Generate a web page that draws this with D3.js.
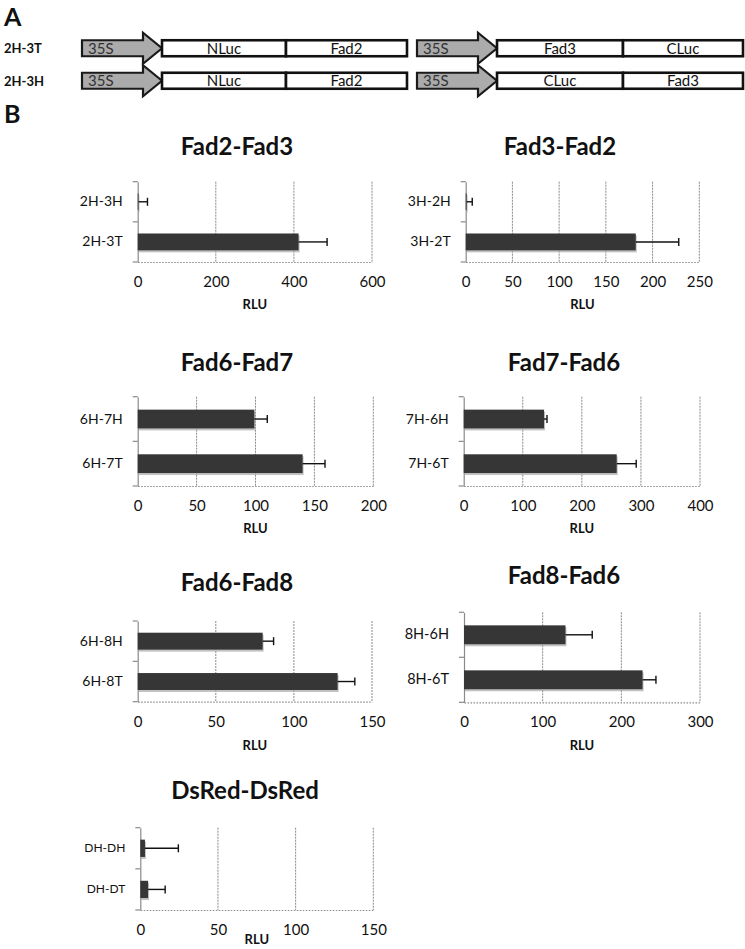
<!DOCTYPE html>
<html><head><meta charset="utf-8">
<script src="https://cdn.jsdelivr.net/npm/d3@7"></script>
<style>
html,body{margin:0;padding:0;background:#fff;}
svg{display:block;}
</style></head>
<body>
<script>
// ---------- DATA ----------
// Panel A constructs
const constructNames = ["2H-3T", "2H-3H"];
const promoterLabel = "35S";
const leftCassette = [["NLuc", "Fad2"], ["NLuc", "Fad2"]];
const rightCassette = [["Fad3", "CLuc"], ["CLuc", "Fad3"]];

// Panel B charts
const chartTitles = ["Fad2-Fad3", "Fad3-Fad2", "Fad6-Fad7", "Fad7-Fad6", "Fad6-Fad8", "Fad8-Fad6", "DsRed-DsRed"];
const chartCategories = [
  ["2H-3H", "2H-3T"],
  ["3H-2H", "3H-2T"],
  ["6H-7H", "6H-7T"],
  ["7H-6H", "7H-6T"],
  ["6H-8H", "6H-8T"],
  ["8H-6H", "8H-6T"],
  ["DH-DH", "DH-DT"]
];
const chartValues = [
  [2, 412],
  [1, 182],
  [99, 140],
  [136, 259],
  [80, 128],
  [129, 227],
  [3, 5]
];
const chartErrors = [
  [23, 73],
  [6, 46],
  [11, 19],
  [5, 33],
  [7, 11],
  [34, 17],
  [21.5, 11]
];
const chartMax = [600, 250, 200, 400, 150, 300, 150];
const chartTickStep = [200, 50, 50, 100, 50, 100, 50];
const axisLabel = "RLU";

// ---------- LAYOUT ----------
const W = 745, H = 949;
const boxes = [
  {x0: 137.7, x1: 372,   y0: 181.7, y1: 262,   tx: 237, ty: 147, rly: 304, lf: 14},
  {x0: 465.7, x1: 699.3, y0: 181.7, y1: 262,   tx: 560, ty: 147, rly: 304, lf: 14},
  {x0: 137.7, x1: 373.3, y0: 396.7, y1: 486,   tx: 237, ty: 363, rly: 528, lf: 14},
  {x0: 463.7, x1: 700,   y0: 396.7, y1: 486,   tx: 564, ty: 363, rly: 528, lf: 14},
  {x0: 137.7, x1: 372,   y0: 621,   y1: 701.7, tx: 237, ty: 583, rly: 745, lf: 14},
  {x0: 464,   x1: 700,   y0: 612.3, y1: 702.3, tx: 564, ty: 576, rly: 745, lf: 14.5},
  {x0: 140.3, x1: 373.3, y0: 827.7, y1: 910,   tx: 245, ty: 791, rly: 939, lf: 12}
];
const FONT = "Lato, 'Open Sans', sans-serif";
const NARROW = "'Liberation Sans Narrow', 'Arial Narrow', Lato, sans-serif";

const svg = d3.select("body").append("svg")
  .attr("width", W).attr("height", H)
  .attr("viewBox", `0 0 ${W} ${H}`);
svg.append("rect").attr("width", W).attr("height", H).attr("fill", "#fff");

// ---------- PANEL A ----------
svg.append("text").attr("x", 4).attr("y", 26).text("A")
  .attr("font-family", FONT).attr("font-weight", 700).attr("font-size", 25).attr("fill", "#111");

const rowY = d3.scaleBand().domain(constructNames).range([32, 97]).padding(0);
const groups = [
  {ax0: 82, ax1: 162, bx: [162, 286, 407], parts: leftCassette},
  {ax0: 417, ax1: 497, bx: [497, 623, 743], parts: rightCassette}
];
const boxH = 16, headH = 31, headL = 19;

constructNames.forEach((name, i) => {
  const cy = rowY(name) + rowY.bandwidth() / 2;
  svg.append("text").attr("x", 4).attr("y", cy + 5).text(name)
    .attr("font-family", FONT).attr("font-weight", 700).attr("font-size", 13).attr("fill", "#111");
  groups.forEach(g => {
    const hx = g.ax1 - headL;
    const pts = [
      [g.ax0, cy - boxH / 2], [hx, cy - boxH / 2], [hx, cy - headH / 2], [g.ax1, cy],
      [hx, cy + headH / 2], [hx, cy + boxH / 2], [g.ax0, cy + boxH / 2]
    ];
    svg.append("path").attr("d", d3.line()(pts) + "Z")
      .attr("fill", "#ababab").attr("stroke", "#1a1a1a").attr("stroke-width", 2.2)
      .attr("stroke-linejoin", "miter");
    svg.append("text").attr("x", g.ax0 + 6).attr("y", cy + 5.5).text(promoterLabel)
      .attr("font-family", NARROW).attr("font-size", 15).attr("fill", "#333");
    const parts = g.parts[i];
    parts.forEach((p, k) => {
      const xa = g.bx[k], xb = g.bx[k + 1];
      svg.append("rect").attr("x", xa).attr("y", cy - boxH / 2)
        .attr("width", xb - xa).attr("height", boxH)
        .attr("fill", "#fff").attr("stroke", "#111").attr("stroke-width", 2.6);
      svg.append("text").attr("x", (xa + xb) / 2).attr("y", cy + 5.5).text(p)
        .attr("text-anchor", "middle")
        .attr("font-family", NARROW).attr("font-size", 15).attr("fill", "#111");
    });
  });
});

// ---------- PANEL B ----------
svg.append("text").attr("x", 4).attr("y", 123).text("B")
  .attr("font-family", FONT).attr("font-weight", 700).attr("font-size", 25).attr("fill", "#111");

chartTitles.forEach((title, ci) => {
  const b = boxes[ci];
  const g = svg.append("g");
  const x = d3.scaleLinear().domain([0, chartMax[ci]]).range([b.x0, b.x1]);
  const y = d3.scaleBand().domain(chartCategories[ci]).range([b.y0, b.y1]).paddingInner(0.58).paddingOuter(0.29);
  const ticks = d3.range(0, chartMax[ci] + 0.001, chartTickStep[ci]);

  // title
  g.append("text").attr("x", b.tx).attr("y", b.ty + 8).text(title)
    .attr("text-anchor", "middle").attr("font-family", FONT)
    .attr("font-weight", 700).attr("font-size", 24).attr("fill", "#111");

  // gridlines
  g.selectAll(".grid").data(ticks.filter(t => t > 0)).join("line")
    .attr("x1", d => x(d)).attr("x2", d => x(d))
    .attr("y1", b.y0).attr("y2", b.y1)
    .attr("stroke", "#8a8a8a").attr("stroke-width", 1).attr("stroke-dasharray", "2,1");

  // bottom axis (dotted) with tick labels
  const xAxis = d3.axisBottom(x).tickValues(ticks).tickSize(0).tickPadding(0)
    .tickFormat(d3.format("d"));
  const ax = g.append("g").attr("transform", `translate(0,${b.y1})`).call(xAxis);
  ax.select(".domain").attr("stroke", "#8a8a8a").attr("stroke-dasharray", "1.5,1.5").attr("stroke-width", 1.2);
  ax.selectAll("text").attr("dy", null).attr("y", 25)
    .attr("font-family", FONT).attr("font-size", 15).attr("fill", "#111");

  // left axis
  const yAxis = d3.axisLeft(y).tickSize(0).tickPadding(15).tickSizeOuter(0);
  const ay = g.append("g").attr("transform", `translate(${b.x0},0)`).call(yAxis);
  ay.select(".domain").attr("stroke", "#8a8a8a").attr("stroke-width", 1.2);
  ay.selectAll("text").attr("font-family", FONT).attr("font-size", b.lf).attr("fill", "#111");
  const bounds = [b.y0, (b.y0 + b.y1) / 2, b.y1];
  g.selectAll(".ytk").data(bounds).join("line")
    .attr("x1", b.x0 - 5).attr("x2", b.x0).attr("y1", d => d).attr("y2", d => d)
    .attr("stroke", "#8a8a8a").attr("stroke-width", 1.2);

  const data = chartCategories[ci].map((c, k) => ({c, v: chartValues[ci][k], e: chartErrors[ci][k]}));

  // bar shadow
  g.selectAll(".sh").data(data).join("rect")
    .attr("x", x(0) + 1).attr("y", d => y(d.c) + 2)
    .attr("width", d => Math.max(0, x(d.v) - x(0))).attr("height", y.bandwidth())
    .attr("fill", "#a8a8a8").attr("opacity", 0.7);
  // bars
  g.selectAll(".bar").data(data).join("rect")
    .attr("x", x(0)).attr("y", d => y(d.c))
    .attr("width", d => Math.max(0, x(d.v) - x(0))).attr("height", y.bandwidth())
    .attr("fill", "#363636");

  // error bars (positive only)
  g.selectAll(".err").data(data).join("line")
    .attr("x1", d => x(d.v)).attr("x2", d => x(d.v + d.e))
    .attr("y1", d => y(d.c) + y.bandwidth() / 2).attr("y2", d => y(d.c) + y.bandwidth() / 2)
    .attr("stroke", "#111").attr("stroke-width", 1.4);
  g.selectAll(".cap").data(data).join("line")
    .attr("x1", d => x(d.v + d.e)).attr("x2", d => x(d.v + d.e))
    .attr("y1", d => y(d.c) + y.bandwidth() / 2 - 4).attr("y2", d => y(d.c) + y.bandwidth() / 2 + 4)
    .attr("stroke", "#111").attr("stroke-width", 1.4);

  // axis title
  g.append("text").attr("x", (b.x0 + b.x1) / 2).attr("y", b.rly + 5).text(axisLabel)
    .attr("text-anchor", "middle").attr("font-family", FONT)
    .attr("font-weight", 700).attr("font-size", 13).attr("fill", "#111");
});
</script>
</body></html>
